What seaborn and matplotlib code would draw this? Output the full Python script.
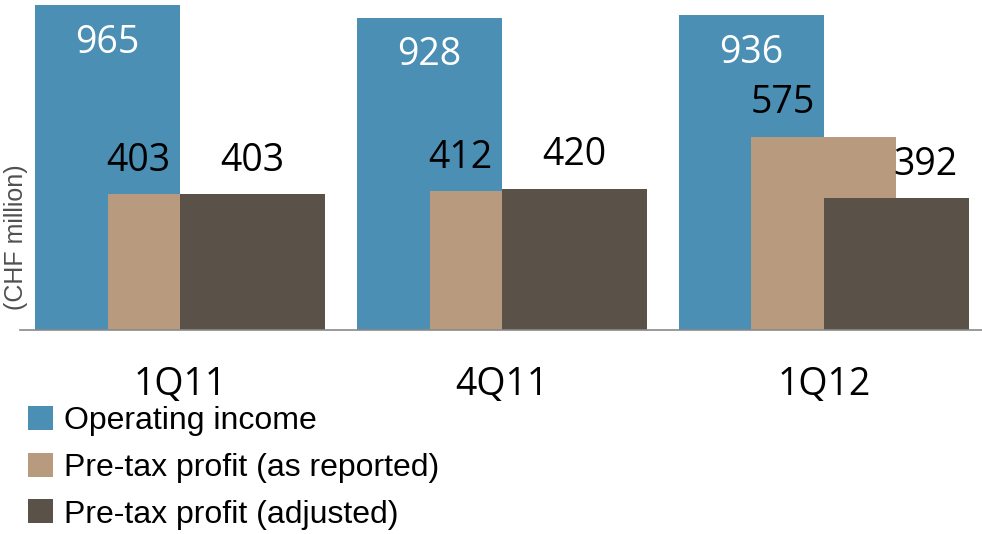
import matplotlib
matplotlib.use("Agg")
import matplotlib.pyplot as plt
from matplotlib.patches import Patch
import seaborn as sns
import numpy as np

# --- DATA ---
QUARTERS = ["1Q11", "4Q11", "1Q12"]
operating_income = [965, 928, 936]
pretax_reported = [403, 412, 575]
pretax_adjusted = [403, 420, 392]
SERIES_NAMES = ["Operating income", "Pre-tax profit (as reported)", "Pre-tax profit (adjusted)"]

# --- STYLE ---
COLORS = ["#4b8fb5", "#b89b7f", "#5a5148"]
OFFSETS = [-0.225, 0.0, 0.225]   # bar shift within each quarter
BAR_W = 0.45
# label offsets in points (dx per quarter, dy)
LABEL_DX = [[0, 0, 0], [-30, -30, -30], [0, 0, 21]]
LABEL_DY = [-27, 24, 24]
LABEL_COLOR = ["white", "black", "black"]

sns.set_theme(style="white")
plt.rcParams["font.family"] = ["Open Sans", "DejaVu Sans"]
plt.rcParams["text.color"] = "black"
plt.rcParams["xtick.color"] = "black"

fig = plt.figure(figsize=(9.82, 5.34), dpi=100)
ax = fig.add_axes([20 / 982, 204 / 534, 962 / 982, 330 / 534])

series = [operating_income, pretax_reported, pretax_adjusted]
idx = np.arange(len(QUARTERS))
for i, vals in enumerate(series):
    sns.barplot(x=idx + OFFSETS[i], y=vals, native_scale=True, width=BAR_W,
                color=COLORS[i], saturation=1, errorbar=None, ax=ax,
                linewidth=0)

# --- VALUE LABELS ---
for i, vals in enumerate(series):
    for j, v in enumerate(vals):
        ax.annotate(str(v), xy=(idx[j] + OFFSETS[i], v),
                    xytext=(LABEL_DX[i][j], LABEL_DY[i]), textcoords="offset points",
                    ha="center", va="center", fontsize=27, color=LABEL_COLOR[i])

ax.set_xlim(-0.497, 2.491)
ax.set_ylim(0, 981)
ax.set_xticks(idx)
ax.set_xticklabels(QUARTERS, fontsize=27, color="black")
ax.tick_params(axis="x", length=0, pad=26)
ax.set_yticks([])
ax.set_xlabel("")
ax.set_ylabel("")
for s in ["top", "right", "left"]:
    ax.spines[s].set_visible(False)
ax.spines["bottom"].set_color("#8a8a8a")
ax.spines["bottom"].set_linewidth(1.2)

fig.text(16 / 982, 1 - 237 / 534, "(CHF million)", rotation=90, ha="center", va="center",
         fontsize=18, color="#505050", family=["Liberation Sans", "DejaVu Sans"])

# --- LEGEND ---
handles = [Patch(facecolor=c, edgecolor="none") for c in COLORS]
fig.legend(handles, SERIES_NAMES, loc="upper left", bbox_to_anchor=(12 / 982, 1 - 390 / 534),
           frameon=False, borderpad=0, handlelength=0.78, handleheight=0.78,
           handletextpad=0.34, labelspacing=0.52, labelcolor="black",
           prop={"family": ["Liberation Sans", "DejaVu Sans"], "size": 23})

plt.savefig("out.png", dpi=100)
